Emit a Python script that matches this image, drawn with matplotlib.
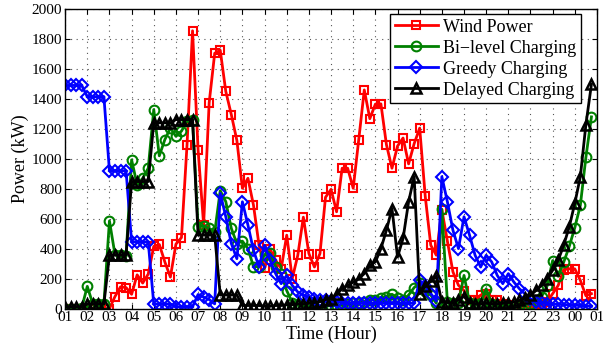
import matplotlib.pyplot as plt
import numpy as np

plt.rcParams['font.family'] = ['Liberation Serif', 'DejaVu Serif']
plt.rcParams['font.size'] = 11

# 15-minute samples from 01:00 to 00:45 next day
hours = 1 + 0.25 * np.arange(96)

wind = [0, 0, 0, 0, 0, 0, 0, 0,
        0, 80, 145, 140, 95, 225, 170, 230,
        415, 428, 311, 210, 430, 474, 1090, 1855,
        1060, 560, 1375, 1705, 1725, 1450, 1295, 1123,
        803, 870, 690, 423, 268, 395, 322, 266,
        490, 200, 356, 610, 367, 277, 367, 743,
        796, 646, 937, 937, 803, 1128, 1460, 1268,
        1365, 1367, 1094, 937, 1085, 1139, 966, 1101,
        1205, 750, 423, 356, 660, 450, 245, 155,
        120, 60, 55, 90, 100, 55, 55, 30,
        25, 20, 10, 10, 15, 15, 20, 45,
        99, 154, 260, 265, 265, 188, 85, 99]

bilevel = [0, 0, 0, 5, 148, 30, 30, 30,
           585, 360, 355, 350, 993, 826, 870, 937,
           1329, 1020, 1128, 1206, 1150, 1185, 1250, 1262,
           546, 550, 535, 510, 787, 714, 535, 434,
           450, 400, 280, 280, 360, 370, 280, 230,
           120, 40, 30, 20, 10, 10, 15, 15,
           20, 20, 25, 30, 35, 40, 45, 55,
           60, 70, 80, 95, 70, 55, 90, 140,
           170, 120, 90, 35, 662, 43, 40, 40,
           221, 40, 30, 40, 132, 30, 20, 15,
           15, 15, 20, 25, 30, 50, 80, 150,
           320, 215, 310, 415, 540, 690, 1010, 1280]

greedy = [1490, 1490, 1490, 1490, 1415, 1415, 1415, 1415,
          920, 920, 920, 920, 445, 445, 445, 445,
          30, 30, 30, 30, 12, 12, 12, 12,
          94, 76, 60, 31, 770, 613, 434, 333,
          713, 557, 389, 277, 423, 322, 233, 166,
          221, 154, 110, 90, 75, 65, 60, 55,
          50, 45, 40, 38, 36, 35, 35, 35,
          35, 35, 35, 35, 35, 35, 35, 35,
          188, 150, 100, 50, 881, 713, 523, 400,
          613, 490, 356, 277, 356, 311, 221, 166,
          233, 177, 132, 98, 65, 43, 35, 33,
          30, 28, 26, 25, 22, 20, 18, 15]

delayed = [10, 10, 10, 10, 30, 30, 30, 30,
           356, 356, 356, 356, 848, 848, 848, 848,
           1240, 1240, 1240, 1240, 1262, 1262, 1262, 1262,
           490, 490, 490, 490, 90, 90, 90, 90,
           20, 20, 20, 20, 15, 15, 20, 20,
           25, 25, 30, 30, 35, 40, 45, 60,
           65, 98, 132, 154, 175, 199, 233, 289,
           311, 400, 523, 668, 344, 468, 713, 881,
           98, 148, 182, 215, 43, 40, 35, 60,
           80, 40, 30, 30, 35, 30, 30, 35,
           40, 43, 54, 69, 87, 121, 154, 199,
           255, 322, 423, 546, 703, 881, 1228, 1497]

tick_hours = np.arange(1, 26)
tick_labels = ['%02d' % (h % 24) for h in tick_hours]

fig = plt.figure(figsize=(6.03, 3.49), dpi=100)
ax = fig.add_axes([0.108, 0.116, 0.882, 0.858])

ax.plot(hours, wind, c='#ff0000', lw=2, marker='s', ms=6, mfc='none', mew=1.5,
        label='Wind Power')
ax.plot(hours, bilevel, c='#008000', lw=2, marker='o', ms=7, mfc='none', mew=1.5,
        label='Bi\u2212level Charging')
ax.plot(hours, greedy, c='#0000ff', lw=2, marker='D', ms=6, mfc='none', mew=1.5,
        label='Greedy Charging')
ax.plot(hours, delayed, c='#000000', lw=2, marker='^', ms=7, mfc='none', mew=1.8,
        label='Delayed Charging')

ax.set_xlim(1, 25)
ax.set_ylim(0, 2000)
ax.set_xticks(tick_hours)
ax.set_xticklabels(tick_labels)
ax.set_yticks(np.arange(0, 2001, 200))
ax.tick_params(direction='in', top=True, right=True, labelsize=11, pad=2)
ax.grid(True, ls=(0, (1, 4)), lw=0.8, c='#555555')
for s in ax.spines.values():
    s.set_linewidth(1.0)

ax.set_xlabel('Time (Hour)', fontsize=13, labelpad=1)
ax.set_ylabel('Power (kW)', fontsize=13, labelpad=2)

leg = ax.legend(loc='upper right', bbox_to_anchor=(0.970, 0.983), fontsize=13,
                fancybox=False, framealpha=1, edgecolor='black', borderaxespad=0,
                handlelength=2.4, handletextpad=0.3, labelspacing=0.22,
                borderpad=0.25)
leg.get_frame().set_linewidth(1.0)

fig.savefig('out.png', dpi=100)
